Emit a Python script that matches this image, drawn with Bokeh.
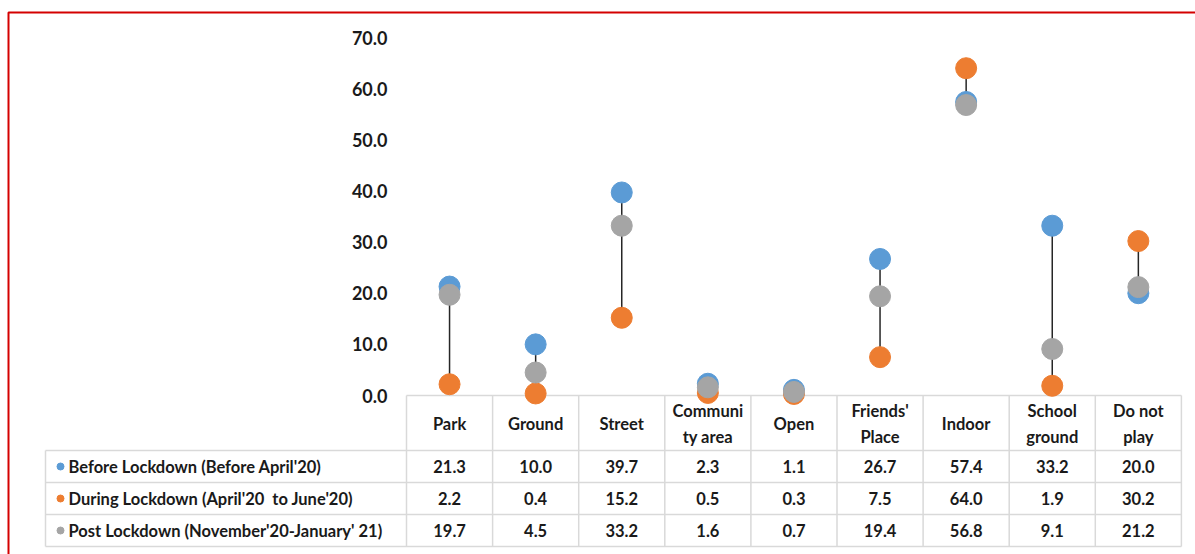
from bokeh.plotting import figure
from bokeh.models import Range1d
from bokeh.core.properties import value
from bokeh.embed import file_html
from bokeh.resources import INLINE

# ---- data ----
categories = ["Park", "Ground", "Street", "Community area", "Open",
              "Friends' Place", "Indoor", "School ground", "Do not play"]
header_labels = ["Park", "Ground", "Street", "Communi\nty area", "Open",
                 "Friends'\nPlace", "Indoor", "School\nground", "Do not\nplay"]
series_names = ["Before Lockdown (Before April'20)",
                "During Lockdown (April'20\u00a0 to June'20)",
                "Post Lockdown (November'20-January' 21)"]
before = [21.3, 10.0, 39.7, 2.3, 1.1, 26.7, 57.4, 33.2, 20.0]
during = [2.2, 0.4, 15.2, 0.5, 0.3, 7.5, 64.0, 1.9, 30.2]
post = [19.7, 4.5, 33.2, 1.6, 0.7, 19.4, 56.8, 9.1, 21.2]
y_ticks = [0, 10, 20, 30, 40, 50, 60, 70]

colors = ["#5B9BD5", "#ED7D31", "#A5A5A5"]
FONT = "Lato"
TXT = "#1a1a1a"

# ---- pixel helpers (layout only) ----
COL0, COLW = 406.0, 86.1
Y0, YPX = 395.0, 5.114


def px(x):
    return (x - COL0) / COLW - 0.5


def py(y):
    return (Y0 - y) / YPX


W, H = 1195, 554
p = figure(width=W, height=H, output_backend="svg", toolbar_location=None,
           x_range=Range1d(px(0), px(W)), y_range=Range1d(py(H), py(0)),
           min_border=0, tools="")
p.axis.visible = False
p.grid.visible = False
p.outline_line_color = None
p.background_fill_color = "white"

n = len(categories)
xs = list(range(n))

# red outer border
p.quad(left=[px(8)], right=[px(W + 20)], top=[py(12)], bottom=[py(H + 20)],
       fill_color=None, line_color="#d40000", line_width=2)

# table grid lines
grid_c = "#d9d9d9"
right_edge = px(COL0 + COLW * n)
hx0, hx1, hy = [px(COL0)], [right_edge], [py(395)]
for yy in [450, 482, 514, 546]:
    hx0.append(px(45)); hx1.append(right_edge); hy.append(py(yy))
p.segment(x0=hx0, x1=hx1, y0=hy, y1=hy, line_color=grid_c, line_width=1.5)
vx = [px(45)] + [k - 0.5 for k in range(n + 1)]
vy0 = [py(450)] + [py(395)] * (n + 1)
vy1 = [py(546)] * (n + 2)
p.segment(x0=vx, x1=vx, y0=vy0, y1=vy1, line_color=grid_c, line_width=1.5)

# y tick labels
p.text(x=[px(387)] * len(y_ticks), y=y_ticks,
       text=["%.1f" % t for t in y_ticks],
       text_font=value(FONT), text_font_size="18px", text_font_style="bold",
       text_align="right", text_baseline="middle", text_color=TXT)

# high-low lines
lo = [min(a, b, c) for a, b, c in zip(before, during, post)]
hi = [max(a, b, c) for a, b, c in zip(before, during, post)]
p.segment(x0=xs, x1=xs, y0=lo, y1=hi, line_color="#262626", line_width=1.5)

# markers
for vals, col in zip([before, during, post], colors):
    p.scatter(x=xs, y=vals, size=21, fill_color=col, line_color=col)

# header labels
p.text(x=xs, y=[py(423)] * n, text=header_labels,
       text_font=value(FONT), text_font_size="16.5px", text_font_style="bold",
       text_align="center", text_baseline="middle", text_color=TXT,
       text_line_height=1.3)

# data rows
row_y = [466, 498, 530]
for r, (vals, col, name) in enumerate(zip([before, during, post], colors, series_names)):
    yy = py(row_y[r])
    p.scatter(x=[px(60)], y=[yy], size=7, fill_color=col, line_color=col)
    p.text(x=[px(68)], y=[yy], text=[name], text_font=value(FONT),
           text_font_size="16.5px", text_font_style="bold",
           text_align="left", text_baseline="middle", text_color=TXT)
    p.text(x=xs, y=[yy] * n, text=["%.1f" % v for v in vals],
           text_font=value(FONT), text_font_size="16.5px", text_font_style="bold",
           text_align="center", text_baseline="middle", text_color=TXT)

open("out.html", "w").write(file_html(p, INLINE))
